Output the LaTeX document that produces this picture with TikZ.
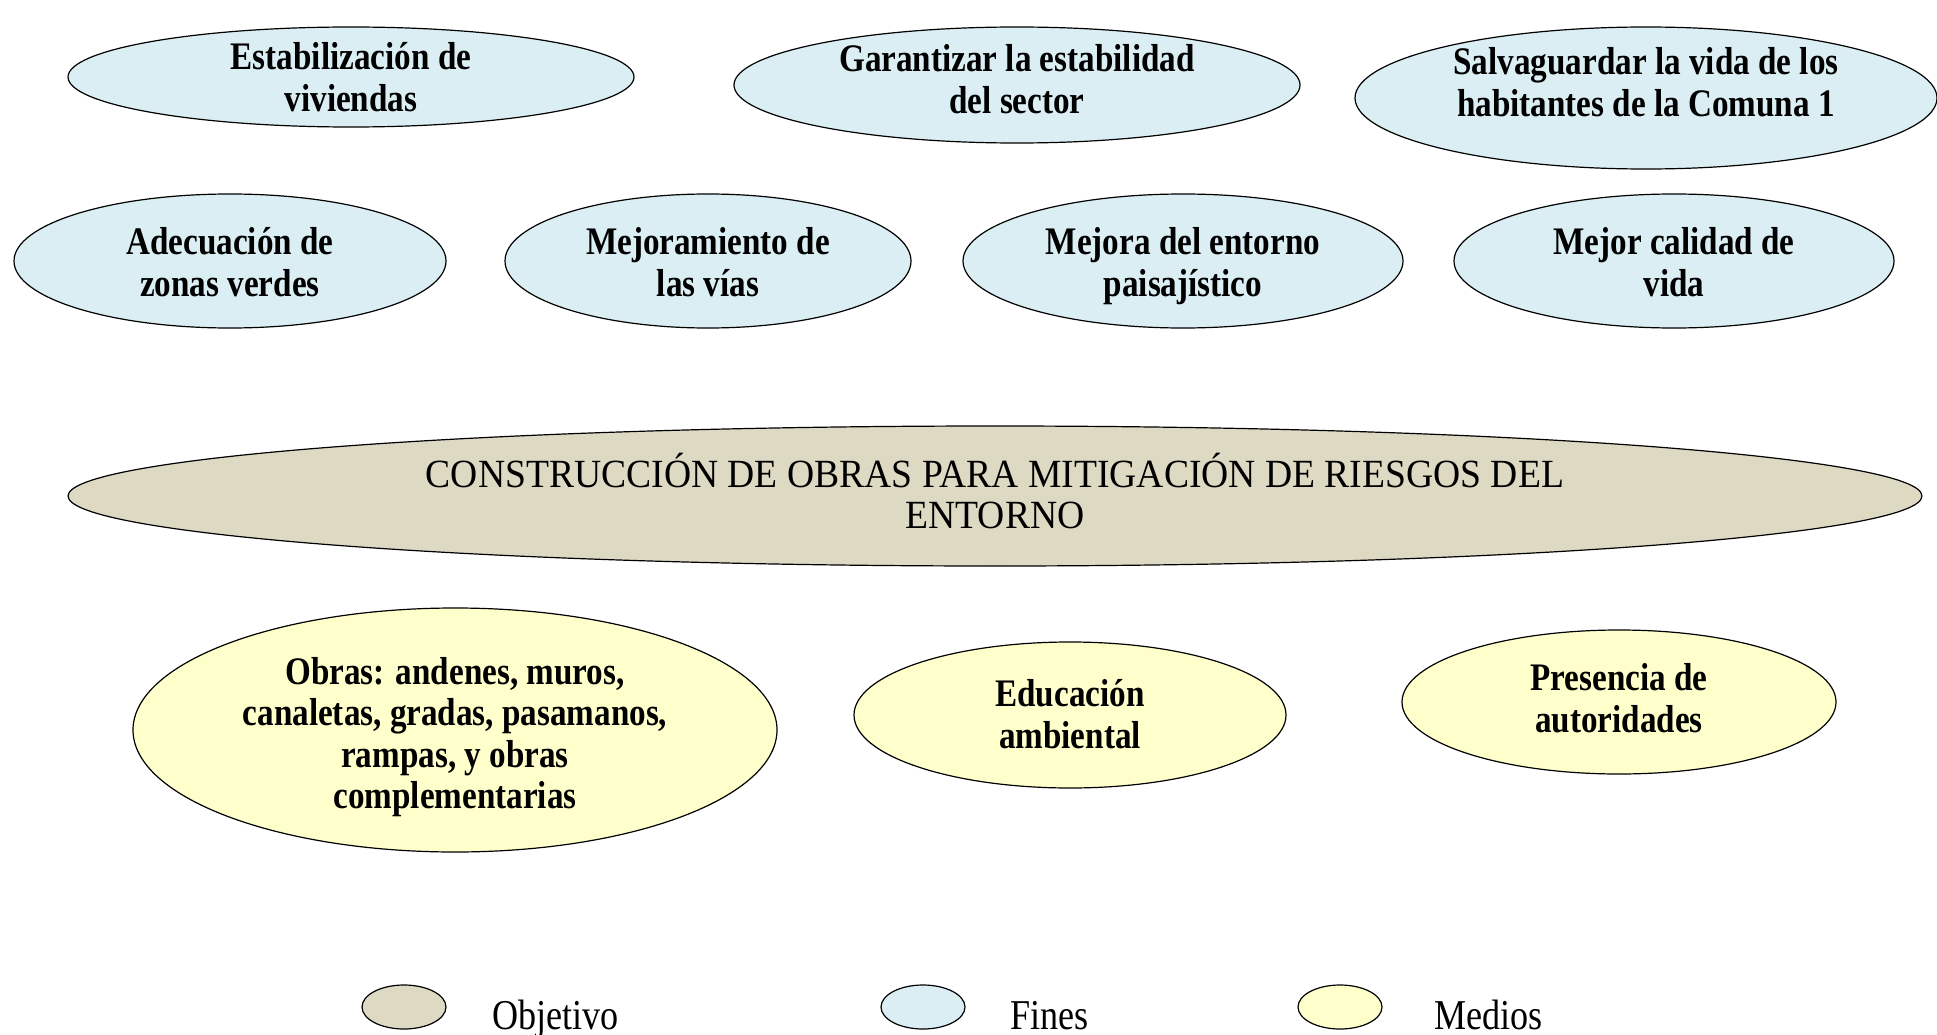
\documentclass[tikz,border=0pt]{standalone}
\usepackage{fontspec}
\setmainfont{Liberation Serif}
\newfontfamily\narrowfont[FakeStretch=0.85]{Liberation Serif}
\newfontfamily\widefont[FakeStretch=0.94]{Liberation Serif}
\usetikzlibrary{positioning, shapes}
\definecolor{finblue}{HTML}{DAEEF3}
\definecolor{medioyellow}{HTML}{FFFFCC}
\definecolor{objtan}{HTML}{DDD9C3}
\tikzstyle{bubble}=[ellipse, draw=black, line width=1.2pt, inner sep=0pt]
\tikzstyle{fin}=[bubble, fill=finblue]
\tikzstyle{medio}=[bubble, fill=medioyellow]
\tikzstyle{objetivo}=[bubble, fill=objtan]
\tikzstyle{bold text}=[inner sep=0pt, align=center, font=\narrowfont\bfseries\fontsize{39}{41.5}\selectfont]
\tikzstyle{plain text}=[inner sep=0pt, align=center, font=\widefont\fontsize{40}{41}\selectfont]
\tikzstyle{legend mark}=[bubble, minimum width=84pt, minimum height=44pt]
\tikzstyle{legend text}=[inner sep=0pt, anchor=base west, font=\narrowfont\fontsize{42.5}{43}\selectfont]

\begin{document}
\begin{tikzpicture}[x=1pt, y=-1pt]
		\useasboundingbox (0,0) rectangle (1937,1035);
		% Fines, first row
		\node[fin, minimum width=566pt, minimum height=100pt] (F-1) at (351,77) {};
		\node[bold text] (F-1-t) at (351,77) {Estabilización de\\viviendas};
		\node[fin, minimum width=566pt, minimum height=116pt] (F-2) at (1017,85) {};
		\node[bold text] (F-2-t) at (1017,79) {Garantizar la estabilidad\\del sector};
		\node[fin, minimum width=582pt, minimum height=142pt] (F-3) at (1646,98) {};
		\node[bold text] (F-3-t) at (1646,82) {Salvaguardar la vida de los\\habitantes de la Comuna 1};
		% Fines, second row
		\node[fin, minimum width=432pt, minimum height=134pt] (F-4) at (230,261) {};
		\node[bold text] (F-4-t) at (230,262) {Adecuación de\\zonas verdes};
		\node[fin, minimum width=406pt, minimum height=134pt] (F-5) at (708,261) {};
		\node[bold text] (F-5-t) at (708,262) {Mejoramiento de\\las vías};
		\node[fin, minimum width=440pt, minimum height=134pt] (F-6) at (1183,261) {};
		\node[bold text] (F-6-t) at (1183,266) {Mejora del entorno\\paisajístico};
		\node[fin, minimum width=440pt, minimum height=134pt] (F-7) at (1674,261) {};
		\node[bold text] (F-7-t) at (1674,262) {Mejor calidad de\\vida};
		% Objetivo
		\node[objetivo, minimum width=1854pt, minimum height=140pt] (O) at (995,496) {};
		\node[plain text] (O-t) at (995,491) {CONSTRUCCIÓN DE OBRAS PARA MITIGACIÓN DE RIESGOS DEL\\ENTORNO};
		% Medios
		\node[medio, minimum width=644pt, minimum height=244pt] (M-1) at (455,730) {};
		\node[bold text] (M-1-t) at (455,737) {Obras: andenes, muros,\\canaletas, gradas, pasamanos,\\rampas, y obras\\complementarias};
		\node[medio, minimum width=432pt, minimum height=146pt] (M-2) at (1070,715) {};
		\node[bold text] (M-2-t) at (1070,714) {Educación\\ambiental};
		\node[medio, minimum width=434pt, minimum height=144pt] (M-3) at (1619,702) {};
		\node[bold text] (M-3-t) at (1619,698) {Presencia de\\autoridades};
		% Legend
		\foreach \name / \x / \tx / \col / \txt in {1/404/492/objtan/Objetivo, 2/923/1010/finblue/Fines, 3/1340/1434/medioyellow/Medios}
		{
		\node[legend mark, fill=\col] (L-\name) at (\x,1007) {};
		\node[legend text] (T-\name) at (\tx,1029) {\txt};
		}
	\end{tikzpicture}
\end{document}
